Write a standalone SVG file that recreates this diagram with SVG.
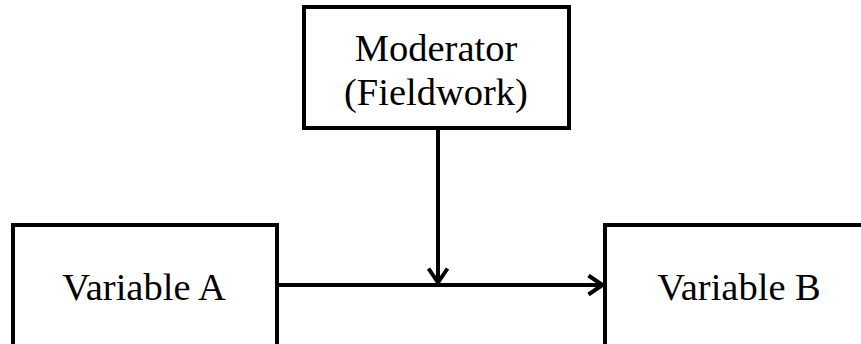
<svg xmlns="http://www.w3.org/2000/svg" width="861" height="344" viewBox="0 0 861 344">
<style>
.box{fill:#fff;stroke:#000;stroke-width:4}
.t{font-family:"Liberation Serif","Times New Roman",serif;font-size:38.5px;fill:#000;text-anchor:middle}
.c{stroke:#000;stroke-width:4;fill:none}
</style>
<defs>
<marker id="ah" viewBox="0 0 18 22" refX="16.5" refY="11" markerWidth="18" markerHeight="22" markerUnits="userSpaceOnUse" orient="auto">
<path d="M2,1.5 L16,11 L2,20.5" fill="none" stroke="#000" stroke-width="4"/>
</marker>
</defs>
<rect width="861" height="344" fill="#fff"/>
<g id="moderator">
<rect class="box" x="304" y="7" width="265" height="121"/>
<text class="t" x="436" y="61">Moderator</text>
<text class="t" x="436" y="105">(Fieldwork)</text>
</g>
<g id="variableA">
<rect class="box" x="13" y="225" width="264" height="140"/>
<text class="t" x="144" y="300">Variable A</text>
</g>
<g id="variableB">
<rect class="box" x="605" y="225" width="270" height="140"/>
<text class="t" x="739" y="300">Variable B</text>
</g>
<g id="connectors">
<line class="c" x1="277" y1="285" x2="603" y2="285" marker-end="url(#ah)"/>
<line class="c" x1="438" y1="128" x2="438" y2="283" marker-end="url(#ah)"/>
</g>
</svg>
